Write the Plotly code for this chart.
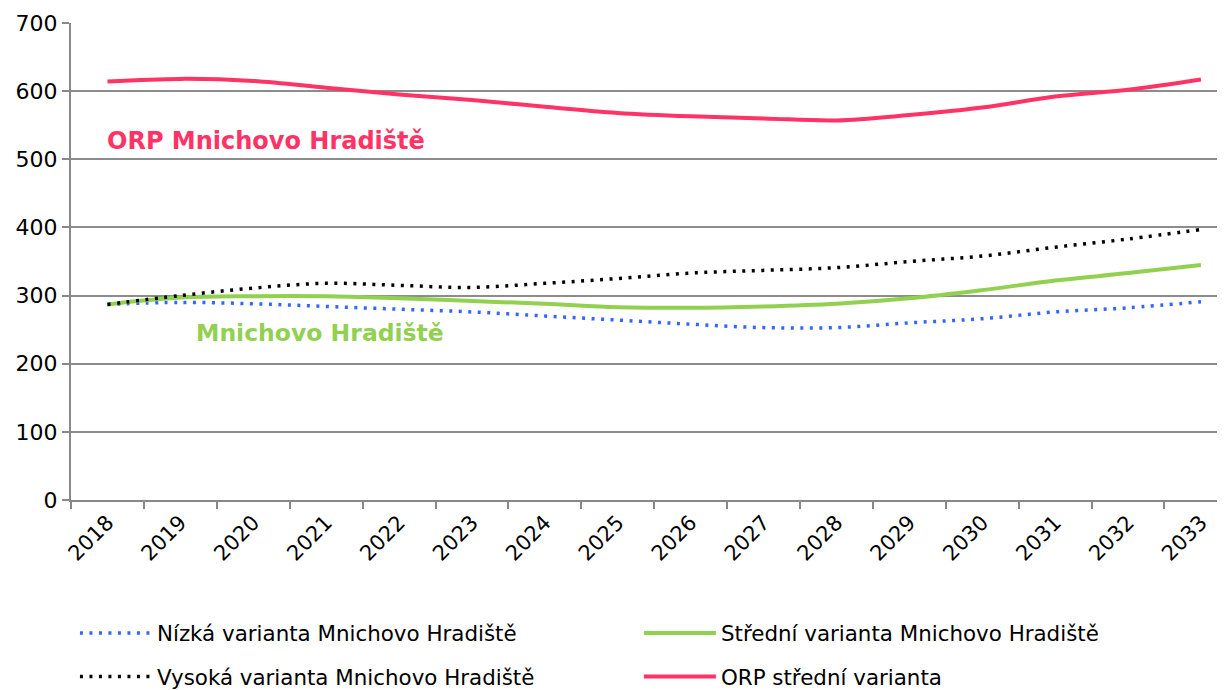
import plotly.graph_objects as go

years = [str(y) for y in range(2018, 2034)]
nizka = [287, 290, 288, 284, 280, 276, 270, 264, 258, 253, 253, 260, 266, 276, 282, 291]
stredni = [287, 297, 299, 299, 296, 292, 288, 283, 282, 284, 288, 296, 308, 322, 333, 345]
vysoka = [287, 300, 311, 318, 315, 312, 318, 325, 333, 337, 341, 350, 358, 371, 383, 397]
orp = [614, 618, 615, 605, 595, 587, 577, 568, 563, 560, 557, 565, 576, 592, 602, 617]

names = ["Nízká varianta Mnichovo Hradiště", "Střední varianta Mnichovo Hradiště",
         "Vysoká varianta Mnichovo Hradiště", "ORP střední varianta"]

FONT = "DejaVu Sans"
fig = go.Figure()
fig.add_trace(go.Scatter(x=years, y=nizka, name=names[0], mode="lines", line_shape="spline",
                         line=dict(color="#3366FF", width=3.5, dash="3px,6.5px"), legend="legend"))
fig.add_trace(go.Scatter(x=years, y=stredni, name=names[1], mode="lines", line_shape="spline",
                         line=dict(color="#92D050", width=4), legend="legend"))
fig.add_trace(go.Scatter(x=years, y=vysoka, name=names[2], mode="lines", line_shape="spline",
                         line=dict(color="#000000", width=3.5, dash="3px,6.5px"), legend="legend2"))
fig.add_trace(go.Scatter(x=years, y=orp, name=names[3], mode="lines", line_shape="spline",
                         line=dict(color="#FF3366", width=4), legend="legend2"))

fig.add_annotation(x=0, y=527, xref="x", yref="y", text="<b>ORP Mnichovo Hradiště</b>",
                   showarrow=False, xanchor="left", xshift=-2,
                   font=dict(family=FONT, size=24, color="#FF3366"))
fig.add_annotation(x=1, y=245, xref="x", yref="y", text="<b>Mnichovo Hradiště</b>",
                   showarrow=False, xanchor="left", xshift=14,
                   font=dict(family=FONT, size=23.5, color="#92D050"))

legend_common = dict(orientation="h", xanchor="left", yanchor="middle", entrywidth=477,
                     entrywidthmode="pixels", font=dict(family=FONT, size=21.4, color="#000"),
                     bgcolor="rgba(0,0,0,0)", itemwidth=72, xref="container", yref="container")

fig.update_layout(
    width=1217, height=682,
    margin=dict(l=63, r=0, t=15, b=190, autoexpand=False),
    paper_bgcolor="white", plot_bgcolor="white",
    font=dict(family=FONT, size=22, color="#000"),
    showlegend=True,
    legend=dict(x=0.055, y=0.0836, **legend_common),
    legend2=dict(x=0.055, y=0.0195, **legend_common),
    xaxis=dict(type="category", range=[-0.5, 15.33], tickson="boundaries", ticks="outside",
               ticklen=7, tickcolor="#888", tickwidth=2, showline=True, linecolor="#888",
               linewidth=2, showgrid=False, tickangle=-45, tickfont=dict(size=21),
               automargin=False),
    yaxis=dict(range=[0, 700], dtick=100, ticks="outside", ticklen=7, tickcolor="#888",
               tickwidth=2, showline=True, linecolor="#888", linewidth=2, showgrid=True,
               gridcolor="#8c8c8c", gridwidth=2, zeroline=False, tickfont=dict(size=22),
               automargin=False),
)

fig.write_html("out.html")
